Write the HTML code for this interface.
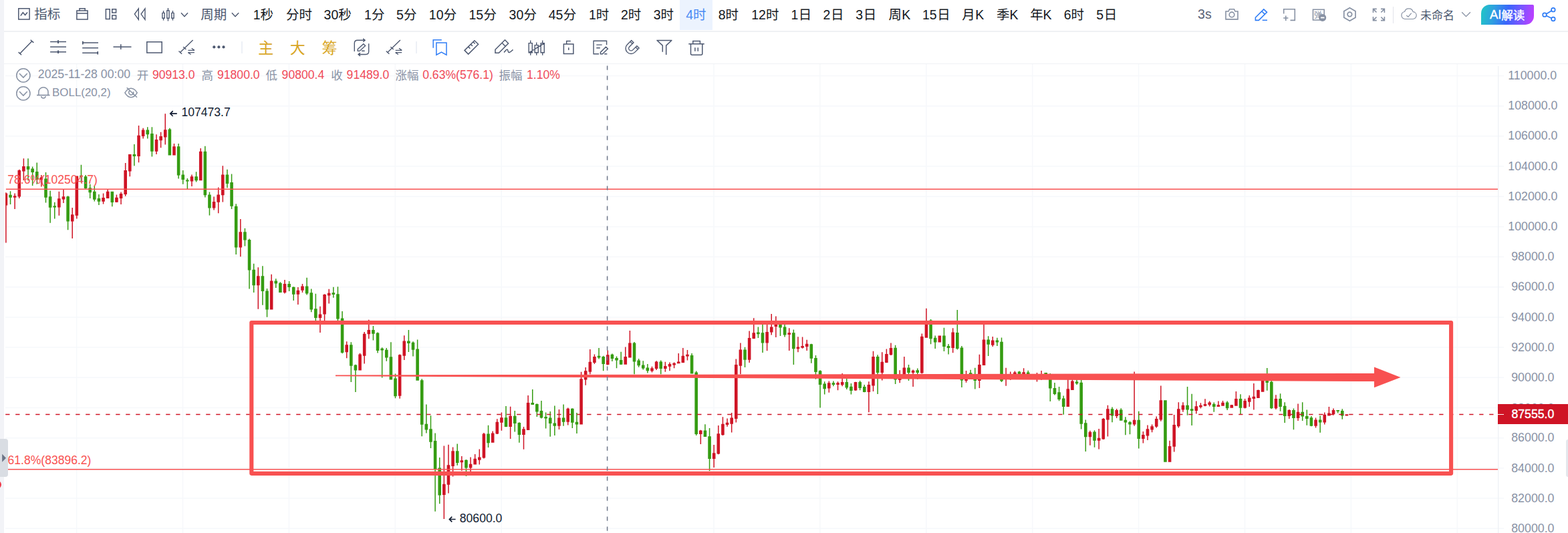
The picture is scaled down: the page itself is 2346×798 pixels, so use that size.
<!DOCTYPE html>
<html lang="zh"><head><meta charset="utf-8"><title>chart</title>
<style>
html,body{margin:0;padding:0;background:#fff}
body{width:2346px;height:798px;position:relative;overflow:hidden;font-family:"Liberation Sans",sans-serif}
.abs{position:absolute}
.t{position:absolute;white-space:nowrap;line-height:1}
svg text{font-family:"Liberation Sans","Noto Sans CJK SC",sans-serif}
</style></head><body>
<svg class="abs" width="2346" height="798" viewBox="0 0 2346 798" style="left:0;top:0"><line x1="8" y1="113.50" x2="2250" y2="113.50" stroke="#f6f8fb" stroke-width="1.5"/>
<line x1="8" y1="158.68" x2="2250" y2="158.68" stroke="#f6f8fb" stroke-width="1.5"/>
<line x1="8" y1="203.86" x2="2250" y2="203.86" stroke="#f6f8fb" stroke-width="1.5"/>
<line x1="8" y1="249.04" x2="2250" y2="249.04" stroke="#f6f8fb" stroke-width="1.5"/>
<line x1="8" y1="294.22" x2="2250" y2="294.22" stroke="#f6f8fb" stroke-width="1.5"/>
<line x1="8" y1="339.40" x2="2250" y2="339.40" stroke="#f6f8fb" stroke-width="1.5"/>
<line x1="8" y1="384.58" x2="2250" y2="384.58" stroke="#f6f8fb" stroke-width="1.5"/>
<line x1="8" y1="429.76" x2="2250" y2="429.76" stroke="#f6f8fb" stroke-width="1.5"/>
<line x1="8" y1="474.94" x2="2250" y2="474.94" stroke="#f6f8fb" stroke-width="1.5"/>
<line x1="8" y1="520.12" x2="2250" y2="520.12" stroke="#f6f8fb" stroke-width="1.5"/>
<line x1="8" y1="565.30" x2="2250" y2="565.30" stroke="#f6f8fb" stroke-width="1.5"/>
<line x1="8" y1="610.48" x2="2250" y2="610.48" stroke="#f6f8fb" stroke-width="1.5"/>
<line x1="8" y1="655.66" x2="2250" y2="655.66" stroke="#f6f8fb" stroke-width="1.5"/>
<line x1="8" y1="700.84" x2="2250" y2="700.84" stroke="#f6f8fb" stroke-width="1.5"/>
<line x1="8" y1="746.02" x2="2250" y2="746.02" stroke="#f6f8fb" stroke-width="1.5"/>
<line x1="8" y1="791.20" x2="2250" y2="791.20" stroke="#f6f8fb" stroke-width="1.5"/>
<line x1="114.60" y1="96" x2="114.60" y2="798" stroke="#f6f8fb" stroke-width="1.5"/>
<line x1="273.50" y1="96" x2="273.50" y2="798" stroke="#f6f8fb" stroke-width="1.5"/>
<line x1="432.40" y1="96" x2="432.40" y2="798" stroke="#f6f8fb" stroke-width="1.5"/>
<line x1="591.30" y1="96" x2="591.30" y2="798" stroke="#f6f8fb" stroke-width="1.5"/>
<line x1="750.20" y1="96" x2="750.20" y2="798" stroke="#f6f8fb" stroke-width="1.5"/>
<line x1="909.10" y1="96" x2="909.10" y2="798" stroke="#f6f8fb" stroke-width="1.5"/>
<line x1="1068.00" y1="96" x2="1068.00" y2="798" stroke="#f6f8fb" stroke-width="1.5"/>
<line x1="1226.90" y1="96" x2="1226.90" y2="798" stroke="#f6f8fb" stroke-width="1.5"/>
<line x1="1385.80" y1="96" x2="1385.80" y2="798" stroke="#f6f8fb" stroke-width="1.5"/>
<line x1="1544.70" y1="96" x2="1544.70" y2="798" stroke="#f6f8fb" stroke-width="1.5"/>
<line x1="1703.60" y1="96" x2="1703.60" y2="798" stroke="#f6f8fb" stroke-width="1.5"/>
<line x1="1862.50" y1="96" x2="1862.50" y2="798" stroke="#f6f8fb" stroke-width="1.5"/>
<line x1="2021.40" y1="96" x2="2021.40" y2="798" stroke="#f6f8fb" stroke-width="1.5"/>
<line x1="2180.30" y1="96" x2="2180.30" y2="798" stroke="#f6f8fb" stroke-width="1.5"/>
<line x1="2241.7" y1="99" x2="2241.7" y2="798" stroke="#eff2f6" stroke-width="1.5"/>
<path d="M14.80 286.3h1.5V306.1h-1.5zM13.25 291.8H17.85V295.7H13.25zM41.28 237.2h1.5V270.3h-1.5zM39.73 249.0H44.33V253.7H39.73zM47.90 249.6h1.5V278.0h-1.5zM46.35 252.4H50.95V257.9H46.35zM54.52 243.5h1.5V275.8h-1.5zM52.97 257.0H57.57V268.9H52.97zM67.76 257.9h1.5V303.4h-1.5zM66.21 267.5H70.81V295.7H66.21zM74.38 285.4h1.5V333.7h-1.5zM72.83 294.3H77.43V310.8H72.83zM81.00 302.8h1.5V327.6h-1.5zM79.45 308.3H84.05V310.5H79.45zM100.86 293.2h1.5V344.2h-1.5zM99.31 294.3H103.91V331.5H99.31zM120.72 246.8h1.5V273.3h-1.5zM119.17 262.8H123.77V264.8H119.17zM127.34 262.0h1.5V282.7h-1.5zM125.79 264.2H130.39V282.1H125.79zM133.96 275.8h1.5V297.0h-1.5zM132.41 281.3H137.01V288.2H132.41zM140.58 278.6h1.5V301.4h-1.5zM139.03 286.8H143.63V298.7H139.03zM147.20 291.0h1.5V307.0h-1.5zM145.65 297.0H150.25V301.7H145.65zM167.07 286.8h1.5V309.2h-1.5zM165.52 286.8H170.12V303.1H165.52zM200.17 216.0h1.5V248.2h-1.5zM198.62 231.1H203.22V233.9H198.62zM220.03 190.3h1.5V207.4h-1.5zM218.48 194.5H223.08V201.3H218.48zM226.65 190.3h1.5V234.4h-1.5zM225.10 200.0H229.70V226.7H225.10zM253.13 191.7h1.5V232.5h-1.5zM251.58 193.6H256.18V232.5H251.58zM266.37 215.1h1.5V267.5h-1.5zM264.82 219.3H269.42V262.5H264.82zM272.99 255.1h1.5V275.8h-1.5zM271.44 261.4H276.04V268.9H271.44zM279.61 266.9h1.5V284.0h-1.5zM278.06 269.4H282.66V271.6H278.06zM292.85 257.3h1.5V272.5h-1.5zM291.30 264.2H295.90V270.3H291.30zM306.09 218.7h1.5V295.6h-1.5zM304.54 226.7H309.14V292.3H304.54zM312.71 287.6h1.5V322.6h-1.5zM311.16 291.5H315.76V311.6H311.16zM339.20 253.7h1.5V281.3h-1.5zM337.65 261.4H342.25V274.9H337.65zM345.82 260.6h1.5V313.0h-1.5zM344.27 273.0H348.87V308.8H344.27zM352.44 305.2h1.5V381.0h-1.5zM350.89 308.7H355.49V370.5H350.89zM365.68 341.8h1.5V368.6h-1.5zM364.13 347.3H368.73V359.5H364.13zM372.30 357.5h1.5V432.5h-1.5zM370.75 358.9H375.35V404.4H370.75zM378.92 394.7h1.5V438.0h-1.5zM377.37 403.8H381.97V427.3H377.37zM392.16 398.3h1.5V456.8h-1.5zM390.61 413.2H395.21V436.1H390.61zM398.78 432.0h1.5V474.7h-1.5zM397.23 435.5H401.83V463.6H397.23zM412.02 417.3h1.5V431.1h-1.5zM410.47 420.4H415.07V424.5H410.47zM418.64 422.3h1.5V438.0h-1.5zM417.09 423.7H421.69V438.0H417.09zM431.88 420.9h1.5V436.1h-1.5zM430.33 425.1H434.93V430.0H430.33zM438.50 429.2h1.5V449.9h-1.5zM436.95 429.7H441.55V440.8H436.95zM458.36 415.7h1.5V441.6h-1.5zM456.81 428.4H461.41V439.4H456.81zM464.98 432.5h1.5V467.2h-1.5zM463.43 438.3H468.03V463.6H463.43zM471.60 439.7h1.5V480.2h-1.5zM470.05 462.3H474.65V476.0H470.05zM498.09 429.7h1.5V445.7h-1.5zM496.54 438.3H501.14V441.0H496.54zM504.71 429.2h1.5V480.2h-1.5zM503.16 440.2H507.76V477.4H503.16zM511.33 465.9h1.5V529.3h-1.5zM509.78 476.6H514.38V527.9H509.78zM524.57 512.2h1.5V572.0h-1.5zM523.02 516.3H527.62V547.7H523.02zM531.19 545.8h1.5V587.1h-1.5zM529.64 546.6H534.24V554.6H529.64zM557.67 487.9h1.5V509.4h-1.5zM556.12 494.0H560.72V499.8H556.12zM564.29 497.6h1.5V528.4h-1.5zM562.74 498.4H567.34V525.1H562.74zM570.91 520.2h1.5V565.6h-1.5zM569.36 521.8H573.96V524.6H569.36zM577.53 521.0h1.5V540.8h-1.5zM575.98 523.7H580.58V535.6H575.98zM584.15 512.2h1.5V568.4h-1.5zM582.60 534.2H587.20V568.4H582.60zM590.77 559.6h1.5V596.2h-1.5zM589.22 566.5H593.82V593.2H589.22zM610.63 494.0h1.5V527.1h-1.5zM609.08 510.5H613.68V514.1H609.08zM617.25 511.3h1.5V533.4h-1.5zM615.70 512.7H620.30V523.7H615.70zM623.87 508.6h1.5V569.8h-1.5zM622.32 522.4H626.92V569.8H622.32zM630.49 567.3h1.5V653.3h-1.5zM628.94 569.2H633.54V635.7H628.94zM637.11 605.5h1.5V648.4h-1.5zM635.56 634.7H640.16V643.5H635.56zM643.73 622.3h1.5V671.0h-1.5zM642.18 642.2H646.78V661.8H642.18zM650.35 648.4h1.5V765.8h-1.5zM648.80 660.0H653.40V703.0H648.80zM656.97 685.1h1.5V754.3h-1.5zM655.42 700.5H660.02V741.4H655.42zM683.46 664.5h1.5V696.8h-1.5zM681.91 675.2H686.51V693.1H681.91zM696.70 688.1h1.5V712.9h-1.5zM695.15 688.8H699.75V700.5H695.15zM729.80 636.7h1.5V670.0h-1.5zM728.25 649.6H732.85V663.3H728.25zM756.28 607.9h1.5V639.2h-1.5zM754.73 625.3H759.33V639.0H754.73zM769.52 614.9h1.5V646.4h-1.5zM767.97 622.8H772.57V634.0H767.97zM776.14 632.3h1.5V662.8h-1.5zM774.59 633.0H779.19V650.9H774.59zM796.00 583.0h1.5V605.9h-1.5zM794.45 603.1H799.05V605.9H794.45zM802.62 604.2h1.5V624.1h-1.5zM801.07 605.0H805.67V616.6H801.07zM809.24 600.0h1.5V626.6h-1.5zM807.69 614.9H812.29V625.6H807.69zM815.86 617.4h1.5V641.4h-1.5zM814.31 624.1H818.91V626.6H814.31zM822.48 616.1h1.5V653.8h-1.5zM820.93 625.6H825.53V634.0H820.93zM829.11 607.4h1.5V652.1h-1.5zM827.56 633.5H832.16V637.7H827.56zM842.35 605.5h1.5V637.7h-1.5zM840.80 625.6H845.40V631.8H840.80zM855.59 611.2h1.5V640.9h-1.5zM854.04 611.7H858.64V632.8H854.04zM862.21 617.9h1.5V649.1h-1.5zM860.66 631.8H865.26V635.5H860.66zM895.31 521.1h1.5V537.4h-1.5zM893.76 532.7H898.36V535.5H893.76zM901.93 532.7h1.5V555.3h-1.5zM900.38 534.1H904.98V545.1H900.38zM915.17 529.4h1.5V541.0h-1.5zM913.62 530.8H918.22V536.9H913.62zM921.79 533.6h1.5V551.2h-1.5zM920.24 536.0H924.84V539.6H920.24zM928.41 526.7h1.5V546.0h-1.5zM926.86 539.1H931.46V545.7H926.86zM948.27 512.1h1.5V560.3h-1.5zM946.72 513.4H951.32V541.5H946.72zM954.89 536.9h1.5V549.8h-1.5zM953.34 539.6H957.94V547.3H953.34zM961.51 540.2h1.5V553.4h-1.5zM959.96 546.5H964.56V551.5H959.96zM968.13 545.1h1.5V558.4h-1.5zM966.58 550.6H971.18V555.3H966.58zM987.99 539.6h1.5V560.3h-1.5zM986.44 541.5H991.04V552.0H986.44zM1034.34 529.1h1.5V559.5h-1.5zM1032.79 531.9H1037.39V559.5H1032.79zM1040.96 555.6h1.5V652.1h-1.5zM1039.41 557.5H1044.01V649.9H1039.41zM1054.20 635.3h1.5V654.0h-1.5zM1052.65 644.4H1057.25V654.0H1052.65zM1060.82 641.0h1.5V705.0h-1.5zM1059.27 653.2H1063.87V687.1H1059.27zM1113.78 519.7h1.5V550.0h-1.5zM1112.23 523.6H1116.83V538.8H1112.23zM1133.64 489.4h1.5V506.0h-1.5zM1132.09 497.4H1136.69V500.2H1132.09zM1140.26 485.8h1.5V528.0h-1.5zM1138.71 498.2H1143.31V513.4H1138.71zM1166.75 485.8h1.5V502.9h-1.5zM1165.20 485.8H1169.80V490.5H1165.20zM1173.37 485.8h1.5V504.6h-1.5zM1171.82 489.4H1176.42V501.5H1171.82zM1186.61 493.5h1.5V545.9h-1.5zM1185.06 498.2H1189.66V522.2H1185.06zM1213.09 514.8h1.5V543.7h-1.5zM1211.54 515.3H1216.14V536.8H1211.54zM1219.71 531.9h1.5V567.7h-1.5zM1218.16 536.0H1222.76V556.9H1218.16zM1226.33 554.2h1.5V610.4h-1.5zM1224.78 555.3H1229.38V576.0H1224.78zM1232.95 571.3h1.5V590.6h-1.5zM1231.40 574.6H1236.00V582.3H1231.40zM1246.19 570.5h1.5V578.2h-1.5zM1244.64 573.2H1249.24V576.0H1244.64zM1266.05 567.1h1.5V583.1h-1.5zM1264.50 572.1H1269.10V580.4H1264.50zM1272.67 574.0h1.5V590.6h-1.5zM1271.12 578.7H1275.72V585.1H1271.12zM1285.91 569.9h1.5V584.2h-1.5zM1284.36 572.1H1288.96V580.9H1284.36zM1292.53 576.0h1.5V587.3h-1.5zM1290.98 579.0H1295.58V587.0H1290.98zM1312.39 531.3h1.5V590.0h-1.5zM1310.84 534.1H1315.44V558.0H1310.84zM1338.88 516.7h1.5V574.9h-1.5zM1337.33 520.8H1341.93V568.5H1337.33zM1358.74 545.9h1.5V569.9h-1.5zM1357.19 550.6H1361.79V558.0H1357.19zM1371.98 551.4h1.5V568.0h-1.5zM1370.43 554.2H1375.03V558.0H1370.43zM1391.84 478.0h1.5V515.2h-1.5zM1390.29 479.5H1394.89V507.3H1390.29zM1398.46 502.6h1.5V522.0h-1.5zM1396.91 505.7H1401.51V512.6H1396.91zM1411.70 490.7h1.5V526.1h-1.5zM1410.15 502.6H1414.75V518.9H1410.15zM1418.32 515.1h1.5V530.5h-1.5zM1416.77 518.0H1421.37V521.1H1416.77zM1431.56 464.1h1.5V523.6h-1.5zM1430.01 497.9H1434.61V522.0H1430.01zM1438.18 518.0h1.5V580.0h-1.5zM1436.63 520.5H1441.23V569.6H1436.63zM1451.42 553.8h1.5V566.0h-1.5zM1449.87 558.2H1454.47V563.0H1449.87zM1458.04 550.8h1.5V582.5h-1.5zM1456.49 566.0H1461.09V570.0H1456.49zM1477.90 503.2h1.5V533.0h-1.5zM1476.35 508.6H1480.95V515.8H1476.35zM1491.15 505.7h1.5V518.0h-1.5zM1489.60 509.5H1494.20V512.6H1489.60zM1497.77 505.4h1.5V572.1h-1.5zM1496.22 511.7H1500.82V570.6H1496.22zM1524.25 555.4h1.5V566.0h-1.5zM1522.70 556.6H1527.30V563.0H1522.70zM1537.49 554.8h1.5V566.0h-1.5zM1535.94 557.6H1540.54V563.0H1535.94zM1544.11 560.0h1.5V568.0h-1.5zM1542.56 562.0H1547.16V565.0H1542.56zM1563.97 558.0h1.5V568.0h-1.5zM1562.42 558.1H1567.02V563.0H1562.42zM1570.59 559.0h1.5V601.0h-1.5zM1569.04 563.0H1573.64V581.5H1569.04zM1577.21 573.1h1.5V591.6h-1.5zM1575.66 580.9H1580.26V590.0H1575.66zM1583.83 579.0h1.5V600.3h-1.5zM1582.28 587.2H1586.88V598.1H1582.28zM1590.45 592.5h1.5V620.7h-1.5zM1588.90 596.6H1593.50V609.1H1588.90zM1610.31 568.4h1.5V575.9h-1.5zM1608.76 571.5H1613.36V574.3H1608.76zM1616.93 568.4h1.5V642.6h-1.5zM1615.38 572.8H1619.98V634.8H1615.38zM1623.55 628.5h1.5V676.1h-1.5zM1622.00 633.2H1626.60V654.2H1622.00zM1636.79 644.3h1.5V669.8h-1.5zM1635.24 646.6H1639.84V659.7H1635.24zM1663.28 609.4h1.5V632.2h-1.5zM1661.73 612.3H1666.33V622.5H1661.73zM1676.52 611.2h1.5V629.7h-1.5zM1674.97 613.4H1679.57V629.7H1674.97zM1683.14 624.3h1.5V651.3h-1.5zM1681.59 628.8H1686.19V632.6H1681.59zM1689.76 630.4h1.5V650.2h-1.5zM1688.21 631.9H1692.81V635.5H1688.21zM1703.00 615.7h1.5V671.6h-1.5zM1701.45 628.8H1706.05V657.0H1701.45zM1742.72 599.2h1.5V691.7h-1.5zM1741.17 599.2H1745.77V691.7H1741.17zM1775.82 578.9h1.5V621.8h-1.5zM1774.27 606.7H1778.87V613.4H1774.27zM1782.44 589.8h1.5V637.1h-1.5zM1780.89 612.3H1785.49V615.0H1780.89zM1815.54 602.6h1.5V616.8h-1.5zM1813.99 604.9H1818.59V608.9H1813.99zM1835.41 600.6h1.5V613.9h-1.5zM1833.86 602.6H1838.46V611.2H1833.86zM1855.27 590.2h1.5V620.2h-1.5zM1853.72 597.0H1858.32V610.7H1853.72zM1894.99 551.0h1.5V584.8h-1.5zM1893.44 570.1H1898.04V572.9H1893.44zM1901.61 569.5h1.5V612.3h-1.5zM1900.06 571.7H1904.66V611.2H1900.06zM1914.85 589.3h1.5V615.7h-1.5zM1913.30 597.0H1917.90V608.9H1913.30zM1921.47 602.2h1.5V633.1h-1.5zM1919.92 607.8H1924.52V622.9H1919.92zM1934.71 611.6h1.5V643.2h-1.5zM1933.16 613.9H1937.76V625.9H1933.16zM1947.95 602.2h1.5V629.9h-1.5zM1946.40 616.8H1951.00V623.6H1946.40zM1954.57 613.4h1.5V636.7h-1.5zM1953.02 622.9H1957.62V627.0H1953.02zM1961.19 622.9h1.5V638.3h-1.5zM1959.64 625.2H1964.24V637.8H1959.64zM1974.43 622.5h1.5V647.7h-1.5zM1972.88 628.6H1977.48V632.6H1972.88zM2000.92 614.1h1.5V618.6h-1.5zM1999.37 614.1H2003.97V615.7H1999.37zM2007.54 612.3h1.5V627.7h-1.5zM2005.99 615.0H2010.59V622.5H2005.99z" fill="#359c12"/>
<path d="M8.18 288.2h1.5V363.5h-1.5zM8.10 289.6H11.23V307.5H8.10zM21.42 289.6h1.5V313.0h-1.5zM19.87 293.2H24.47V295.7H19.87zM28.04 253.7h1.5V297.0h-1.5zM26.49 255.1H31.09V294.5H26.49zM34.66 237.2h1.5V270.0h-1.5zM33.11 249.0H37.71V256.5H33.11zM61.14 262.0h1.5V279.5h-1.5zM59.59 265.6H64.19V269.2H59.59zM87.62 286.8h1.5V322.7h-1.5zM86.07 297.3H90.67V310.5H86.07zM94.24 284.0h1.5V303.9h-1.5zM92.69 294.3H97.29V298.4H92.69zM107.48 311.0h1.5V356.9h-1.5zM105.93 321.3H110.53V331.5H105.93zM114.10 263.4h1.5V327.6h-1.5zM112.55 263.4H117.15V322.7H112.55zM153.82 289.6h1.5V305.6h-1.5zM152.27 295.9H156.87V301.7H152.27zM160.44 283.5h1.5V297.0h-1.5zM158.89 286.8H163.49V297.0H158.89zM173.69 291.5h1.5V303.1h-1.5zM172.14 295.7H176.74V302.8H172.14zM180.31 287.4h1.5V305.9h-1.5zM178.76 290.1H183.36V297.0H178.76zM186.93 244.1h1.5V293.7h-1.5zM185.38 255.1H189.98V291.0H185.38zM193.55 231.1h1.5V264.2h-1.5zM192.00 231.1H196.60V256.5H192.00zM206.79 188.1h1.5V243.2h-1.5zM205.24 202.7H209.84V233.9H205.24zM213.41 191.7h1.5V207.4h-1.5zM211.86 194.5H216.46V204.1H211.86zM233.27 201.3h1.5V231.1h-1.5zM231.72 209.1H236.32V226.7H231.72zM239.89 197.8h1.5V221.2h-1.5zM238.34 204.1H242.94V210.2H238.34zM246.51 170.2h1.5V216.5h-1.5zM244.96 194.2H249.56V205.5H244.96zM259.75 215.1h1.5V232.5h-1.5zM258.20 219.3H262.80V232.5H258.20zM286.23 261.4h1.5V279.1h-1.5zM284.68 264.2H289.28V271.6H284.68zM299.47 222.0h1.5V270.3h-1.5zM297.92 226.7H302.52V270.3H297.92zM319.33 294.5h1.5V314.4h-1.5zM317.78 302.0H322.38V311.6H317.78zM325.95 280.5h1.5V319.3h-1.5zM324.40 291.5H329.00V302.8H324.40zM332.58 248.2h1.5V302.5h-1.5zM331.03 261.4H335.63V292.3H331.03zM359.06 328.0h1.5V384.3h-1.5zM357.51 347.3H362.11V370.5H357.51zM385.54 400.3h1.5V462.8h-1.5zM383.99 413.2H388.59V427.3H383.99zM405.40 410.7h1.5V463.6h-1.5zM403.85 420.4H408.45V463.6H403.85zM425.26 419.0h1.5V439.4h-1.5zM423.71 425.1H428.31V438.0H423.71zM445.12 430.0h1.5V455.9h-1.5zM443.57 434.7H448.17V440.8H443.57zM451.74 425.1h1.5V438.0h-1.5zM450.19 428.4H454.79V434.7H450.19zM478.22 458.7h1.5V498.1h-1.5zM476.67 470.5H481.27V476.0H476.67zM484.84 440.2h1.5V480.0h-1.5zM483.29 441.0H487.89V470.5H483.29zM491.46 432.8h1.5V454.6h-1.5zM489.91 438.8H494.51V442.4H489.91zM517.95 511.3h1.5V536.2h-1.5zM516.40 516.3H521.00V527.3H516.40zM537.81 528.7h1.5V554.6h-1.5zM536.26 530.6H540.86V554.6H536.26zM544.43 497.0h1.5V544.4h-1.5zM542.88 499.8H547.48V532.8H542.88zM551.05 478.8h1.5V507.2h-1.5zM549.50 494.0H554.10V500.3H549.50zM597.39 530.6h1.5V596.8h-1.5zM595.84 531.2H600.44V592.7H595.84zM604.01 502.2h1.5V538.9h-1.5zM602.46 510.5H607.06V532.8H602.46zM663.60 667.5h1.5V776.9h-1.5zM662.05 724.8H666.65V740.9H662.05zM670.22 665.8h1.5V738.5h-1.5zM668.67 696.3H673.27V725.8H668.67zM676.84 669.5h1.5V713.6h-1.5zM675.29 675.2H679.89V698.0H675.29zM690.08 683.1h1.5V704.7h-1.5zM688.53 689.3H693.13V692.3H688.53zM703.32 684.4h1.5V706.2h-1.5zM701.77 694.8H706.37V700.5H701.77zM709.94 680.1h1.5V695.5h-1.5zM708.39 686.8H712.99V695.5H708.39zM716.56 672.5h1.5V695.5h-1.5zM715.01 684.4H719.61V688.8H715.01zM723.18 647.9h1.5V686.4h-1.5zM721.63 649.6H726.23V685.6H721.63zM736.42 645.4h1.5V662.8h-1.5zM734.87 648.4H739.47V662.8H734.87zM743.04 627.3h1.5V650.1h-1.5zM741.49 631.8H746.09V649.6H741.49zM749.66 617.4h1.5V644.7h-1.5zM748.11 625.3H752.71V632.8H748.11zM762.90 608.7h1.5V657.1h-1.5zM761.35 622.8H765.95V639.0H761.35zM782.76 639.0h1.5V672.7h-1.5zM781.21 642.2H785.81V650.9H781.21zM789.38 592.1h1.5V643.9h-1.5zM787.83 603.1H792.43V643.9H787.83zM835.73 612.9h1.5V642.9h-1.5zM834.18 625.6H838.78V637.7H834.18zM848.97 610.4h1.5V636.5h-1.5zM847.42 611.7H852.02V631.8H847.42zM868.83 556.7h1.5V635.5h-1.5zM867.28 567.2H871.88V635.5H867.28zM875.45 550.1h1.5V576.8h-1.5zM873.90 555.3H878.50V568.6H873.90zM882.07 523.1h1.5V560.3h-1.5zM880.52 541.8H885.12V556.7H880.52zM888.69 530.5h1.5V545.1h-1.5zM887.14 534.1H891.74V542.9H887.14zM908.55 524.5h1.5V546.5h-1.5zM907.00 531.3H911.60V546.0H907.00zM935.03 519.5h1.5V545.7h-1.5zM933.48 534.1H938.08V545.7H933.48zM941.65 495.0h1.5V535.5h-1.5zM940.10 513.4H944.70V535.5H940.10zM974.75 548.7h1.5V557.5h-1.5zM973.20 551.2H977.80V555.6H973.20zM981.37 540.2h1.5V553.9h-1.5zM979.82 541.5H984.42V552.0H979.82zM994.62 541.8h1.5V556.7h-1.5zM993.07 547.9H997.67V552.0H993.07zM1001.24 542.4h1.5V555.3h-1.5zM999.69 545.1H1004.29V548.7H999.69zM1007.86 542.4h1.5V551.2h-1.5zM1006.31 543.7H1010.91V546.5H1006.31zM1014.48 529.1h1.5V544.3h-1.5zM1012.93 541.5H1017.53V544.3H1012.93zM1021.10 521.1h1.5V543.2h-1.5zM1019.55 532.7H1024.15V542.9H1019.55zM1027.72 523.9h1.5V539.6h-1.5zM1026.17 530.8H1030.77V533.6H1026.17zM1047.58 643.8h1.5V665.0h-1.5zM1046.03 644.4H1050.63V649.9H1046.03zM1067.44 665.9h1.5V700.0h-1.5zM1065.89 678.3H1070.49V687.1H1065.89zM1074.06 636.9h1.5V680.2h-1.5zM1072.51 649.3H1077.11V679.6H1072.51zM1080.68 624.2h1.5V652.1h-1.5zM1079.13 634.7H1083.73V651.2H1079.13zM1087.30 626.4h1.5V638.8h-1.5zM1085.75 632.7H1090.35V636.0H1085.75zM1093.92 618.1h1.5V647.6h-1.5zM1092.37 625.6H1096.97V634.7H1092.37zM1100.54 537.4h1.5V632.5h-1.5zM1098.99 545.9H1103.59V627.0H1098.99zM1107.16 513.4h1.5V560.3h-1.5zM1105.61 523.6H1110.21V547.8H1105.61zM1120.40 495.5h1.5V542.9h-1.5zM1118.85 506.0H1123.45V538.8H1118.85zM1127.02 476.2h1.5V507.3h-1.5zM1125.47 498.2H1130.07V507.0H1125.47zM1146.88 485.8h1.5V525.2h-1.5zM1145.33 496.9H1149.93V513.4H1145.33zM1153.50 470.1h1.5V501.5h-1.5zM1151.95 489.4H1156.55V497.4H1151.95zM1160.13 473.4h1.5V505.1h-1.5zM1158.58 485.8H1163.18V489.1H1158.58zM1179.99 491.3h1.5V525.0h-1.5zM1178.44 498.2H1183.04V501.0H1178.44zM1193.23 504.3h1.5V527.2h-1.5zM1191.68 519.5H1196.28V522.2H1191.68zM1199.85 504.6h1.5V521.7h-1.5zM1198.30 518.1H1202.90V520.8H1198.30zM1206.47 508.7h1.5V525.0h-1.5zM1204.92 514.8H1209.52V518.9H1204.92zM1239.57 570.5h1.5V587.8h-1.5zM1238.02 573.2H1242.62V581.5H1238.02zM1252.81 571.3h1.5V584.2h-1.5zM1251.26 573.2H1255.86V576.0H1251.26zM1259.43 558.9h1.5V578.2h-1.5zM1257.88 572.1H1262.48V576.2H1257.88zM1279.29 571.8h1.5V585.1h-1.5zM1277.74 572.1H1282.34V584.5H1277.74zM1299.15 571.3h1.5V617.3h-1.5zM1297.60 576.0H1302.20V587.0H1297.60zM1305.77 525.8h1.5V585.9h-1.5zM1304.22 534.1H1308.82V577.6H1304.22zM1319.01 527.2h1.5V569.4h-1.5zM1317.46 541.8H1322.06V558.0H1317.46zM1325.64 522.5h1.5V543.2h-1.5zM1324.09 529.9H1328.69V542.9H1324.09zM1332.26 513.4h1.5V532.1h-1.5zM1330.71 521.1H1335.31V531.3H1330.71zM1345.50 554.2h1.5V573.2h-1.5zM1343.95 566.0H1348.55V569.0H1343.95zM1352.12 534.1h1.5V567.0h-1.5zM1350.57 550.6H1355.17V565.0H1350.57zM1365.36 553.4h1.5V579.0h-1.5zM1363.81 554.7H1368.41V558.0H1363.81zM1378.60 499.6h1.5V559.6h-1.5zM1377.05 503.7H1381.65V558.5H1377.05zM1385.22 461.8h1.5V505.7h-1.5zM1383.67 485.0H1388.27V505.7H1383.67zM1405.08 502.6h1.5V512.6h-1.5zM1403.53 502.6H1408.13V512.6H1403.53zM1424.94 491.3h1.5V528.3h-1.5zM1423.39 497.6H1427.99V521.1H1423.39zM1444.80 554.9h1.5V572.8h-1.5zM1443.25 565.0H1447.85V570.0H1443.25zM1464.66 530.8h1.5V580.9h-1.5zM1463.11 546.1H1467.71V570.0H1463.11zM1471.28 486.0h1.5V547.1h-1.5zM1469.73 508.6H1474.33V547.1H1469.73zM1484.52 503.9h1.5V518.9h-1.5zM1482.97 509.5H1487.57V516.7H1482.97zM1504.39 550.8h1.5V577.8h-1.5zM1502.84 563.0H1507.44V568.0H1502.84zM1511.01 556.5h1.5V569.0h-1.5zM1509.46 562.0H1514.06V565.0H1509.46zM1517.63 555.4h1.5V566.0h-1.5zM1516.08 557.4H1520.68V563.0H1516.08zM1530.87 551.3h1.5V566.0h-1.5zM1529.32 557.2H1533.92V563.0H1529.32zM1550.73 558.0h1.5V571.5h-1.5zM1549.18 562.0H1553.78V566.0H1549.18zM1557.35 554.9h1.5V569.0h-1.5zM1555.80 560.0H1560.40V564.0H1555.80zM1597.07 567.4h1.5V609.1h-1.5zM1595.52 582.2H1600.12V609.1H1595.52zM1603.69 567.4h1.5V584.0h-1.5zM1602.14 570.6H1606.74V584.0H1602.14zM1630.17 644.8h1.5V666.7h-1.5zM1628.62 646.7H1633.22V654.2H1628.62zM1643.41 642.1h1.5V672.5h-1.5zM1641.86 655.8H1646.46V659.7H1641.86zM1650.03 625.9h1.5V658.1h-1.5zM1648.48 627.0H1653.08V657.4H1648.48zM1656.66 606.7h1.5V653.6h-1.5zM1655.11 612.3H1659.71V628.6H1655.11zM1669.90 611.9h1.5V625.9h-1.5zM1668.35 613.9H1672.95V622.9H1668.35zM1696.38 556.6h1.5V637.8h-1.5zM1694.83 628.8H1699.43V635.5H1694.83zM1709.62 646.1h1.5V663.5h-1.5zM1708.07 651.1H1712.67V657.0H1708.07zM1716.24 636.4h1.5V659.0h-1.5zM1714.69 642.3H1719.29V652.5H1714.69zM1722.86 635.5h1.5V647.3h-1.5zM1721.31 638.3H1725.91V643.4H1721.31zM1729.48 623.6h1.5V640.5h-1.5zM1727.93 627.0H1732.53V638.7H1727.93zM1736.10 577.4h1.5V630.8h-1.5zM1734.55 599.2H1739.15V628.6H1734.55zM1749.34 659.7h1.5V691.7h-1.5zM1747.79 668.0H1752.39V691.7H1747.79zM1755.96 620.9h1.5V676.6h-1.5zM1754.41 636.0H1759.01V668.7H1754.41zM1762.58 602.2h1.5V640.5h-1.5zM1761.03 612.3H1765.63V638.3H1761.03zM1769.20 602.2h1.5V616.8h-1.5zM1767.65 606.7H1772.25V613.4H1767.65zM1789.06 600.6h1.5V619.5h-1.5zM1787.51 608.3H1792.11V615.0H1787.51zM1795.68 603.3h1.5V611.6h-1.5zM1794.13 606.7H1798.73V609.4H1794.13zM1802.30 597.2h1.5V608.3h-1.5zM1800.75 605.1H1805.35V607.8H1800.75zM1808.92 600.6h1.5V608.5h-1.5zM1807.37 602.6H1811.97V606.2H1807.37zM1822.17 600.6h1.5V608.9h-1.5zM1820.62 606.2H1825.22V608.9H1820.62zM1828.79 599.9h1.5V607.8h-1.5zM1827.24 602.8H1831.84V607.8H1827.24zM1842.03 606.0h1.5V610.7h-1.5zM1840.48 606.2H1845.08V610.7H1840.48zM1848.65 585.9h1.5V607.8h-1.5zM1847.10 597.0H1851.70V607.8H1847.10zM1861.89 597.0h1.5V611.6h-1.5zM1860.34 599.9H1864.94V610.7H1860.34zM1868.51 592.0h1.5V608.9h-1.5zM1866.96 595.4H1871.56V601.7H1866.96zM1875.13 574.0h1.5V613.4h-1.5zM1873.58 593.8H1878.18V597.0H1873.58zM1881.75 583.5h1.5V595.9h-1.5zM1880.20 584.1H1884.80V595.9H1880.20zM1888.37 568.0h1.5V586.8h-1.5zM1886.82 568.0H1891.42V586.8H1886.82zM1908.23 591.3h1.5V613.0h-1.5zM1906.68 597.0H1911.28V611.2H1906.68zM1928.09 613.0h1.5V627.0h-1.5zM1926.54 613.9H1931.14V622.9H1926.54zM1941.33 604.4h1.5V629.9h-1.5zM1939.78 616.8H1944.38V625.9H1939.78zM1967.81 625.4h1.5V640.5h-1.5zM1966.26 628.6H1970.86V637.8H1966.26zM1981.05 617.5h1.5V635.5h-1.5zM1979.50 620.7H1984.10V632.6H1979.50zM1987.68 608.9h1.5V622.5h-1.5zM1986.13 618.4H1990.73V622.5H1986.13zM1994.30 611.6h1.5V621.8h-1.5zM1992.75 614.1H1997.35V620.2H1992.75zM2014.16 620.2h1.5V622.5h-1.5zM2012.61 620.2H2017.21V622.5H2012.61z" fill="#cf1425"/>
<line x1="8.2" y1="620.45" x2="2241" y2="620.45" stroke="#cf1425" stroke-width="1.5" stroke-dasharray="6.3 8.7"/>
<line x1="8.9" y1="283.2" x2="2241" y2="283.2" stroke="#f85151" stroke-width="1.6"/>
<line x1="8.9" y1="702.8" x2="2241" y2="702.8" stroke="#f85151" stroke-width="1.6"/>
<rect x="376.3" y="483.0" width="1794.8" height="225.85" fill="none" stroke="#f85151" stroke-width="6.1" stroke-linejoin="round"/>
<path d="M502 561.5 L2056 558.9 L2056 549.6 L2095.5 565 L2056 580.2 L2056 571.1 L502 563.2 Z" fill="#f85151"/>
<line x1="908.6" y1="98.4" x2="908.6" y2="798" stroke="#6f788a" stroke-width="1.5" stroke-dasharray="6.4 8.6"/></svg>
<div class="abs" style="left:0;top:0;width:6px;height:798px;background:#f2f3f7"></div>
<span class="t" style="left:2256.28px;top:104.90px;font-size:17.8px;color:#8992a5;">110000.0</span>
<span class="t" style="left:2256.28px;top:150.11px;font-size:17.8px;color:#8992a5;">108000.0</span>
<span class="t" style="left:2256.28px;top:195.32px;font-size:17.8px;color:#8992a5;">106000.0</span>
<span class="t" style="left:2256.28px;top:240.53px;font-size:17.8px;color:#8992a5;">104000.0</span>
<span class="t" style="left:2256.28px;top:285.74px;font-size:17.8px;color:#8992a5;">102000.0</span>
<span class="t" style="left:2256.28px;top:330.95px;font-size:17.8px;color:#8992a5;">100000.0</span>
<span class="t" style="left:2261.23px;top:376.16px;font-size:17.8px;color:#8992a5;">98000.0</span>
<span class="t" style="left:2261.23px;top:421.37px;font-size:17.8px;color:#8992a5;">96000.0</span>
<span class="t" style="left:2261.23px;top:466.58px;font-size:17.8px;color:#8992a5;">94000.0</span>
<span class="t" style="left:2261.23px;top:511.79px;font-size:17.8px;color:#8992a5;">92000.0</span>
<span class="t" style="left:2261.23px;top:557.00px;font-size:17.8px;color:#8992a5;">90000.0</span>
<span class="t" style="left:2261.23px;top:603.01px;font-size:17.8px;color:#8992a5;">88000.0</span>
<span class="t" style="left:2261.23px;top:647.42px;font-size:17.8px;color:#8992a5;">86000.0</span>
<span class="t" style="left:2261.23px;top:692.63px;font-size:17.8px;color:#8992a5;">84000.0</span>
<span class="t" style="left:2261.23px;top:737.84px;font-size:17.8px;color:#8992a5;">82000.0</span>
<span class="t" style="left:2261.23px;top:783.05px;font-size:17.8px;color:#8992a5;">80000.0</span>
<div class="abs" style="left:2241.2px;top:605.2px;width:104.80000000000018px;height:29.6px;background:#cf1425"></div>
<div class="abs" style="left:2241.2px;top:619.7px;width:8.7px;height:1.5px;background:#fff"></div>
<span class="t" style="left:2261.41px;top:612.22px;font-size:17.7px;color:#fff;-webkit-text-stroke:0.4px #fff;">87555.0</span>
<div class="abs" style="left:2342.6px;top:658.3px;width:6px;height:55.5px;background:#e4e7ec;border-radius:3px 0 0 3px"></div>
<span class="t" style="left:11.30px;top:260.74px;font-size:17.55px;color:#f85151;">78.6%(102504.7)</span>
<span class="t" style="left:11.60px;top:680.54px;font-size:17.55px;color:#f85151;">61.8%(83896.2)</span>
<span class="t" style="left:271.40px;top:160.20px;font-size:17.6px;color:#101a30;">107473.7</span>
<span class="t" style="left:687.80px;top:768.10px;font-size:17.6px;color:#101a30;">80600.0</span>
<span class="t" style="left:56.80px;top:103.42px;font-size:17.7px;color:#8992a5;">2025-11-28 00:00</span>
<span class="t" style="left:227.90px;top:103.50px;font-size:17.6px;color:#f04a59;">90913.0</span>
<span class="t" style="left:325.00px;top:103.50px;font-size:17.6px;color:#f04a59;">91800.0</span>
<span class="t" style="left:421.60px;top:103.50px;font-size:17.6px;color:#f04a59;">90800.4</span>
<span class="t" style="left:518.60px;top:103.50px;font-size:17.6px;color:#f04a59;">91489.0</span>
<span class="t" style="left:632.20px;top:103.50px;font-size:17.6px;color:#f04a59;">0.63%(576.1)</span>
<span class="t" style="left:788.00px;top:103.50px;font-size:17.6px;color:#f04a59;">1.10%</span>
<span class="t" style="left:78.00px;top:131.25px;font-size:16.95px;color:#8992a5;">BOLL(20,2)</span>
<div class="abs" style="left:0;top:657.4px;width:11.9px;height:57px;background:#d9dde3;border-radius:0 4px 4px 0"></div>
<div class="abs" style="left:6px;top:46px;width:2340px;height:1.5px;background:#eff1f4"></div>
<div class="abs" style="left:6px;top:94.6px;width:2340px;height:1.5px;background:#eff1f4"></div>
<div class="abs" style="left:1017px;top:0;width:48.8px;height:44.6px;background:#ecf3fe"></div>
<span class="t" style="left:378.68px;top:12.69px;font-size:19.5px;color:#141821;">1</span>
<span class="t" style="left:484.56px;top:12.69px;font-size:19.5px;color:#141821;">30</span>
<span class="t" style="left:544.93px;top:12.69px;font-size:19.5px;color:#141821;">1</span>
<span class="t" style="left:593.03px;top:12.69px;font-size:19.5px;color:#141821;">5</span>
<span class="t" style="left:641.81px;top:12.69px;font-size:19.5px;color:#141821;">10</span>
<span class="t" style="left:701.51px;top:12.69px;font-size:19.5px;color:#141821;">15</span>
<span class="t" style="left:761.56px;top:12.69px;font-size:19.5px;color:#141821;">30</span>
<span class="t" style="left:820.76px;top:12.69px;font-size:19.5px;color:#141821;">45</span>
<span class="t" style="left:880.93px;top:12.69px;font-size:19.5px;color:#141821;">1</span>
<span class="t" style="left:929.03px;top:12.69px;font-size:19.5px;color:#141821;">2</span>
<span class="t" style="left:977.63px;top:12.69px;font-size:19.5px;color:#141821;">3</span>
<span class="t" style="left:1026.18px;top:12.69px;font-size:19.5px;color:#4a8af4;">4</span>
<span class="t" style="left:1074.83px;top:12.69px;font-size:19.5px;color:#141821;">8</span>
<span class="t" style="left:1124.26px;top:12.69px;font-size:19.5px;color:#141821;">12</span>
<span class="t" style="left:1183.43px;top:12.69px;font-size:19.5px;color:#141821;">1</span>
<span class="t" style="left:1231.48px;top:12.69px;font-size:19.5px;color:#141821;">2</span>
<span class="t" style="left:1280.28px;top:12.69px;font-size:19.5px;color:#141821;">3</span>
<span class="t" style="left:1349.15px;top:12.69px;font-size:19.5px;color:#141821;">K</span>
<span class="t" style="left:1379.91px;top:12.69px;font-size:19.5px;color:#141821;">15</span>
<span class="t" style="left:1459.25px;top:12.69px;font-size:19.5px;color:#141821;">K</span>
<span class="t" style="left:1510.45px;top:12.69px;font-size:19.5px;color:#141821;">K</span>
<span class="t" style="left:1560.55px;top:12.69px;font-size:19.5px;color:#141821;">K</span>
<span class="t" style="left:1591.73px;top:12.69px;font-size:19.5px;color:#141821;">6</span>
<span class="t" style="left:1640.33px;top:12.69px;font-size:19.5px;color:#141821;">5</span>
<span class="t" style="left:1792.10px;top:12.19px;font-size:19.5px;color:#5a6377;">3s</span>
<div class="abs" style="left:2216px;top:7px;width:79px;height:29.8px;border-radius:13px 2px 13px 0;background:linear-gradient(100deg,#1fc8c4 0%,#2f9fe0 25%,#3a66fb 50%,#7d55ff 75%,#c63cff 100%)"></div>
<span class="t" style="left:2228.91px;top:12.94px;font-size:18.5px;color:#fff;-webkit-text-stroke:0.4px #fff;">AI</span>
<div class="abs" style="left:360.8px;top:62.2px;width:2px;height:18px;background:#edf0f6"></div>
<div class="abs" style="left:622.4px;top:62.2px;width:2px;height:18px;background:#edf0f6"></div>
<div class="abs" style="left:2083.8px;top:10.2px;width:1.5px;height:25px;background:#e1e4ea"></div>
<svg class="abs" width="2346" height="798" viewBox="0 0 2346 798" style="left:0;top:0"><text x="204.8" y="118.7" font-size="17.5" fill="#8992a5">开</text>
<text x="301.6" y="118.7" font-size="17.5" fill="#8992a5">高</text>
<text x="397.6" y="118.7" font-size="17.5" fill="#8992a5">低</text>
<text x="495.3" y="118.7" font-size="17.5" fill="#8992a5">收</text>
<text x="591.4" y="118.7" font-size="17.5" fill="#8992a5">涨幅</text>
<text x="746.6" y="118.7" font-size="17.5" fill="#8992a5">振幅</text>
<text x="389.5" y="29.2" font-size="19.5" fill="#141821">秒</text>
<text x="428" y="29.2" font-size="19.5" fill="#141821">分时</text>
<text x="506.3" y="29.2" font-size="19.5" fill="#141821">秒</text>
<text x="556" y="29.2" font-size="19.5" fill="#141821">分</text>
<text x="604.1" y="29.2" font-size="19.5" fill="#141821">分</text>
<text x="663.8" y="29.2" font-size="19.5" fill="#141821">分</text>
<text x="723.5" y="29.2" font-size="19.5" fill="#141821">分</text>
<text x="783.5" y="29.2" font-size="19.5" fill="#141821">分</text>
<text x="842.7" y="29.2" font-size="19.5" fill="#141821">分</text>
<text x="891.7" y="29.2" font-size="19.5" fill="#141821">时</text>
<text x="939.8" y="29.2" font-size="19.5" fill="#141821">时</text>
<text x="988.4" y="29.2" font-size="19.5" fill="#141821">时</text>
<text x="1037" y="29.2" font-size="19.5" fill="#4a8af4">时</text>
<text x="1085.6" y="29.2" font-size="19.5" fill="#141821">时</text>
<text x="1145.9" y="29.2" font-size="19.5" fill="#141821">时</text>
<text x="1194.8" y="29.2" font-size="19.5" fill="#141821">日</text>
<text x="1242.9" y="29.2" font-size="19.5" fill="#141821">日</text>
<text x="1291.7" y="29.2" font-size="19.5" fill="#141821">日</text>
<text x="1329.5" y="29.2" font-size="19.5" fill="#141821">周</text>
<text x="1402.2" y="29.2" font-size="19.5" fill="#141821">日</text>
<text x="1439.3" y="29.2" font-size="19.5" fill="#141821">月</text>
<text x="1490.9" y="29.2" font-size="19.5" fill="#141821">季</text>
<text x="1541.2" y="29.2" font-size="19.5" fill="#141821">年</text>
<text x="1602.5" y="29.2" font-size="19.5" fill="#141821">时</text>
<text x="1651.7" y="29.2" font-size="19.5" fill="#141821">日</text>
<text x="51.2" y="28.2" font-size="19.5" fill="#4c586f">指标</text>
<text x="300.2" y="29.3" font-size="19.5" fill="#4c586f">周期</text>
<text x="2125" y="28.9" font-size="17" fill="#4c586f">未命名</text>
<text x="2246.3" y="28.8" font-size="17.5" fill="#fff" stroke="#fff" stroke-width="0.4">解读</text>
<text x="386.2" y="79.7" font-size="23" fill="#d8a524">主</text>
<text x="433.7" y="79.7" font-size="23" fill="#d8a524">大</text>
<text x="481.6" y="79.7" font-size="23" fill="#d8a524">筹</text><path d="M264.8 170.1H254.9M258.7 166.2L254.79999999999998 170.1L258.7 174.0" fill="none" stroke="#101a30" stroke-width="1.7"/><path d="M681.6 777.5H672.5M676.3000000000001 773.6L672.4000000000001 777.5L676.3000000000001 781.4" fill="none" stroke="#101a30" stroke-width="1.7"/><path d="M3.2 679.8L9 685.8L3.2 691.8z" fill="#6b7486"/><circle cx="-4.6" cy="725.6" r="6.6" fill="#f03545"/><path d="M27.8 12.8H44.1V29.1H27.8Z M30.8 23.6L34.3 18.7L37.6 22.6L41 18.5" fill="none" stroke="#4d5870" stroke-width="1.5" /><path d="M114.9 15.9H131.1V29.1H114.9Z M119 15.9V12.8H127.2V15.9 M114.9 20.1H131.1" fill="none" stroke="#4d5870" stroke-width="1.5" /><path d="M158.4 13.8H164.2V28.5H158.4Z M167.8 13.8H173.6V18.9H167.8Z M167.8 23H173.6V28.5H167.8Z" fill="none" stroke="#4d5870" stroke-width="1.5" /><path d="M207.3 12.9L201.4 21.1L207.3 29.3Z M217 12.9L211.1 21.1L217 29.3Z" fill="none" stroke="#4d5870" stroke-width="1.4" /><path d="M242.9 19.4h3.3v7.8h-3.3z M244.55 16.1V19.4 M244.55 27.2V30.6 M249.8 15.7h3.3v11.5h-3.3z M251.45 11.9V15.7 M251.45 27.2V31.5 M256.8 19.4h3.3v7.8h-3.3z M258.45 16.1V19.4 M258.45 27.2V30.6" fill="none" stroke="#4d5870" stroke-width="1.4" stroke-linejoin="round"/><path d="M271 19.2L276 24.8L281 19.2" fill="none" stroke="#4d5870" stroke-width="1.4" /><path d="M346.9 19.2L352 24.8L357.2 19.2" fill="none" stroke="#4d5870" stroke-width="1.4" /><path d="M30 80L48 61.6 M27.7 78.1L32.1 82.3 M45.7 59.7L50.3 63.9" fill="none" stroke="#4d5870" stroke-width="1.5" /><path d="M75.1 62.6H99 M75.1 70.2H99 M75.1 77.7H99" fill="none" stroke="#4d5870" stroke-width="1.5" /><path d="M87 60.3V64.9 M87 75.4V80" fill="none" stroke="#4d5870" stroke-width="2" /><path d="M123.2 64.1H147 M123.2 71.7H147 M123.2 79.2H147" fill="none" stroke="#4d5870" stroke-width="1.5" /><path d="M123.9 61.8V66.4 M146.2 76.9V81.5" fill="none" stroke="#4d5870" stroke-width="1.8" /><path d="M169.5 70.2H196.5 M180.8 66.2V73.9" fill="none" stroke="#4d5870" stroke-width="1.5" /><path d="M219.8 62.7H242.2V79H219.8Z" fill="none" stroke="#4d5870" stroke-width="1.5" /><path d="M269.5 78.5L288.6 60.1 M267.5 76.4L272.1 80.8 M274.1 70.3L278.4 73.9 M281.4 75.4H290.9L286.7 72.3 M290.9 78.6H281.4L285.6 81.5" fill="none" stroke="#4d5870" stroke-width="1.4" stroke-linejoin="bevel"/><circle cx="320.3" cy="70.4" r="2.1" fill="#4d5870"/><circle cx="327.4" cy="70.4" r="2.1" fill="#4d5870"/><circle cx="334.5" cy="70.4" r="2.1" fill="#4d5870"/><path d="M530.3 76.9V64.8Q530.3 60.3 534.8 60.3H545.7 M543.2 57.9L546.1 60.3L543.2 62.7 M551.7 65.2V77Q551.7 81.5 547.2 81.5H536.5 M539 79.1L536.1 81.5L539 83.9 M535.3 76.4V73.6L543.8 65.7L546.6 68.4L538.1 76.4Z M541.1 76.3H545.7" fill="none" stroke="#4d5870" stroke-width="1.4" /><path d="M579.8 78.5L598.9000000000001 60.1 M577.8 76.4L582.4000000000001 80.8 M584.4000000000001 70.3L588.7 73.9 M591.7 75.4H601.2L597.0 72.3 M601.2 78.6H591.7L595.9000000000001 81.5" fill="none" stroke="#4d5870" stroke-width="1.4" stroke-linejoin="bevel"/><path d="M648.2 71.8V59.7H660.8 M652.9 64.1H668V82.2L660.45 78.1L652.9 82.2Z" fill="none" stroke="#2f7df6" stroke-width="1.5" /><path d="M695.1 75.4L709.9 60.7L715.6 66.3L700.7 81.1Z M700.6 69.9L703.4 72.7 M704.3 66.3L706.9 68.9 M707.9 62.7L710.7 65.5" fill="none" stroke="#4d5870" stroke-width="1.5" /><path d="M741 79.2V74.3L755.5 59.8L760.6 65L746.4 79.2Z M751.2 64.3L756 69.3 M754.1 78.6C756 76.5 757.5 73.9 758.9 74.1C760.4 74.3 759.5 78.6 761.7 78.6C763.5 78.6 765.7 76 767.5 74.4" fill="none" stroke="#4d5870" stroke-width="1.5" /><path d="M791.2 64.6h5.1v14.1h-5.1z M793.75 60.4V64.6 M793.75 78.7V82.8 M800.2 67.6h5.1v11.1h-5.1z M802.75 63.5V67.6 M802.75 78.7V82.8 M809.2 64.6h5.1v14.1h-5.1z M811.75 60.4V64.6 M811.75 78.7V82.8 M790.9 79.2L815 64.3" fill="none" stroke="#4d5870" stroke-width="1.4" /><path d="M843.4 66.1H857.9V80.5H843.4Z M847.7 66.1V61.4H853.8 M850.8 71.2V75" fill="none" stroke="#4d5870" stroke-width="1.5" /><path d="M907.6 67.3V61.2H888.1V80.8H896.1 M892.3 67.1H900.7 M892.3 71.8H897.8 M898.4 80.8V78.4L906.5 70.3L909.4 72.9L901.4 80.8Z M904.2 80.8H908.4" fill="none" stroke="#4d5870" stroke-width="1.4" /><path d="M-8.1 -8.8V0A8.1 8.1 0 0 0 8.1 0V-8.8H3.5V0A3.5 3.5 0 0 1 -3.5 0V-8.8Z M-8.1 -6.200000000000001H-3.5 M3.5 -6.200000000000001H8.1" transform="translate(944.2 72.4) rotate(45)" fill="none" stroke="#4d5870" stroke-width="1.4"/><path d="M982.4 60.4H1005.5 M983.4 60.8L991.3 68.2V77.8 M1004.6 60.8L996.7 68.2V81.9" fill="none" stroke="#4d5870" stroke-width="1.5" /><path d="M1030.3 65.8H1053.8 M1036.8 65.8V61.4H1047.4V65.8 M1033.5 65.8V80.2Q1033.5 82.2 1035.5 82.2H1048.8Q1050.8 82.2 1050.8 80.2V65.8 M1039.9 71.2V76.7 M1044.3 71.2V76.7" fill="none" stroke="#4d5870" stroke-width="1.5" /><path d="M1834 17H1838L1839.6 13.7H1846.5L1848 17H1852V28.9H1834Z" fill="none" stroke="#8791a3" stroke-width="1.6" /><circle cx="1843" cy="21.9" r="3.8" fill="none" stroke="#8791a3" stroke-width="1.6"/><path d="M1878.4 30.4V26.3L1890.8 13.9L1895.5 18.3L1883.3 30.4Z M1887.9 17L1892.2 21.1 M1888.7 30.2H1896" fill="none" stroke="#2f7df6" stroke-width="1.6" /><path d="M1920.7 20.5V13.7H1937.3V30.4H1930.5 M1920.2 27H1927.4 M1923.8 23.5V30.9" fill="none" stroke="#8791a3" stroke-width="1.6" /><path d="M1964.5 14.2H1981.2V30H1964.5Z" fill="none" stroke="#8791a3" stroke-width="1.6" /><text x="1966" y="26.6" font-size="12" fill="#8791a3">弹</text><circle cx="1978.7" cy="26.4" r="5.5" fill="#8791a3"/><rect x="1976" y="25.5" width="5.5" height="1.9" fill="#fff"/><path d="M2019.4 11.8L2028 16.7V26.3L2019.4 31.2L2010.8 26.3V16.7Z" fill="none" stroke="#8791a3" stroke-width="1.7" /><circle cx="2019.4" cy="21.45" r="3.3" fill="none" stroke="#8791a3" stroke-width="1.7"/><path d="M2059.8 13.4H2054.5V19 M2054.7 13.6L2059.5 18.5 M2066 13.4H2071.4V19 M2071.2 13.6L2066.3 18.5 M2059.8 30.6H2054.5V25.1 M2054.7 30.4L2059.5 25.5 M2066 30.6H2071.4V25.1 M2071.2 30.4L2066.3 25.5" fill="none" stroke="#8791a3" stroke-width="1.6" /><path d="M2102.2 28.5C2099.2 28.5 2096.9 26 2096.9 23C2096.9 20.2 2098.9 17.9 2101.6 17.5C2102.2 14.8 2104.7 12.8 2107.7 12.8C2110.9 12.8 2113.5 14.9 2114.1 17.7C2117 17.9 2119.2 20.2 2119.2 23.1C2119.2 26.1 2116.8 28.5 2113.8 28.5Z" fill="none" stroke="#8791a3" stroke-width="1.2" /><path d="M2104.2 22.9L2106.8 25.3L2111.7 19.7" fill="none" stroke="#8791a3" stroke-width="1.2" /><path d="M2187.2 18.2L2193.5 24.6L2199.9 18.2" fill="none" stroke="#8791a3" stroke-width="1.3" /><path d="M2313.4 20.9L2321.5 16 M2313.4 23.5L2321.5 27.2" fill="none" stroke="#2f7df6" stroke-width="1.7" /><circle cx="2323.9" cy="14.7" r="2.8" fill="none" stroke="#2f7df6" stroke-width="1.7"/><circle cx="2311" cy="22.2" r="2.8" fill="none" stroke="#2f7df6" stroke-width="1.7"/><circle cx="2323.9" cy="28.5" r="2.8" fill="none" stroke="#2f7df6" stroke-width="1.7"/><circle cx="34.9" cy="112.9" r="10.1" fill="none" stroke="#8791a3" stroke-width="1.5"/><path d="M29 109.9L34.9 116.10000000000001L40.8 109.9" fill="none" stroke="#8791a3" stroke-width="1.5" /><circle cx="34.9" cy="139.9" r="10.1" fill="none" stroke="#8791a3" stroke-width="1.5"/><path d="M29 136.9L34.9 143.1L40.8 136.9" fill="none" stroke="#8791a3" stroke-width="1.5" /><path d="M55.1 142.5H74.6" fill="none" stroke="#8791a3" stroke-width="1.7" /><path d="M57.9 142.5V137.6C57.9 133.7 61 130.8 64.95 130.8C68.9 130.8 72 133.7 72 137.6V142.5 M61.6 144.1C62.1 146 63.3 147.1 64.95 147.1C66.6 147.1 67.8 146 68.3 144.1" fill="none" stroke="#8791a3" stroke-width="1.5" /><path d="M186.9 138.9C189.5 134.6 192.5 132.3 196 132.3C199.5 132.3 202.6 134.6 205.2 138.9C202.6 143.4 199.5 145.8 196 145.8C192.5 145.8 189.5 143.4 186.9 138.9Z M199.3 137.2A3.4 3.4 0 1 1 194.6 135.6 M189.7 131.2L205 145.7" fill="none" stroke="#8791a3" stroke-width="1.5" /></svg>
</body></html>
